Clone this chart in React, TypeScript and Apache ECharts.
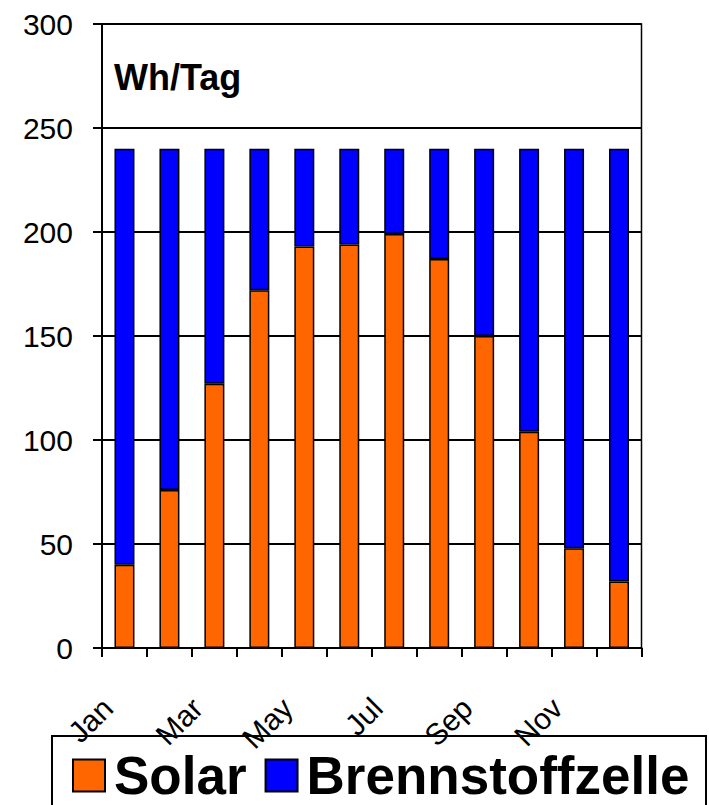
import React, { useEffect, useRef } from "react";
import * as echarts from "echarts";

const months = ["Jan", "Feb", "Mar", "Apr", "May", "Jun", "Jul", "Aug", "Sep", "Oct", "Nov", "Dec"];
const solar = [40, 76, 127, 172, 193, 194, 199, 187, 150, 104, 48, 32];
const brennstoffzelle = [200, 164, 113, 68, 47, 46, 41, 53, 90, 136, 192, 208];
const yTicks = { min: 0, max: 300, interval: 50 };
const unitLabel = "Wh/Tag";

const FONT = "'Liberation Sans', Arial, sans-serif";

export default function App() {
  const ref = useRef<HTMLDivElement>(null);
  useEffect(() => {
    if (!ref.current) return;
    const chart = echarts.init(ref.current, null, { renderer: "svg" });
    chart.setOption({
      animation: false,
      backgroundColor: "#fff",
      grid: {
        left: 102,
        right: 67.5,
        top: 24,
        bottom: 157,
        show: true,
        borderColor: "#000",
        borderWidth: 1.5,
        backgroundColor: "transparent",
      },
      legend: {
        left: 67,
        top: 744,
        itemWidth: 32,
        itemHeight: 32,
        itemGap: 18,
        icon: "rect",
        textStyle: {
          fontFamily: FONT,
          fontWeight: "bold",
          fontSize: 53,
          color: "#000",
          lineHeight: 44,
          padding: [0, 0, 0, 4],
        },
        data: ["Solar", "Brennstoffzelle"],
      },
      xAxis: {
        type: "category",
        data: months,
        boundaryGap: true,
        axisLine: { show: true, lineStyle: { color: "#000", width: 2 } },
        axisTick: { show: true, interval: 0, length: 9, lineStyle: { color: "#000", width: 2 } },
        axisLabel: {
          interval: 1,
          rotate: 45,
          fontFamily: FONT,
          fontSize: 30,
          color: "#000",
          margin: 38,
          padding: [0, 24, 0, 0],
        },
        splitLine: { show: false },
      },
      yAxis: {
        type: "value",
        min: yTicks.min,
        max: yTicks.max,
        interval: yTicks.interval,
        axisLine: { show: true, lineStyle: { color: "#000", width: 2 } },
        axisTick: { show: true, length: 9, lineStyle: { color: "#000", width: 2 } },
        axisLabel: { fontFamily: FONT, fontSize: 30, color: "#000", margin: 29 },
        splitLine: { show: true, lineStyle: { color: "#000", width: 2 } },
      },
      series: [
        {
          name: "Solar",
          type: "bar",
          stack: "total",
          barWidth: 20,
          data: solar,
          itemStyle: { color: "#FF6600", borderColor: "#000", borderWidth: 1.5 },
        },
        {
          name: "Brennstoffzelle",
          type: "bar",
          stack: "total",
          barWidth: 20,
          data: brennstoffzelle,
          itemStyle: { color: "#0000FF", borderColor: "#000", borderWidth: 1.5 },
        },
      ],
      graphic: [
        {
          type: "text",
          x: 114,
          y: 77,
          style: {
            text: unitLabel,
            font: `bold 36px ${FONT}`,
            fill: "#000",
            verticalAlign: "middle",
          },
        },
        {
          type: "rect",
          shape: { x: 52, y: 736, width: 654, height: 100 },
          style: { fill: "none", stroke: "#000", lineWidth: 2 },
          z: -1,
        },
      ],
    });
    return () => chart.dispose();
  }, []);
  return <div ref={ref} style={{ width: 709, height: 805, position: "absolute", left: 0, top: 0 }} />;
}
